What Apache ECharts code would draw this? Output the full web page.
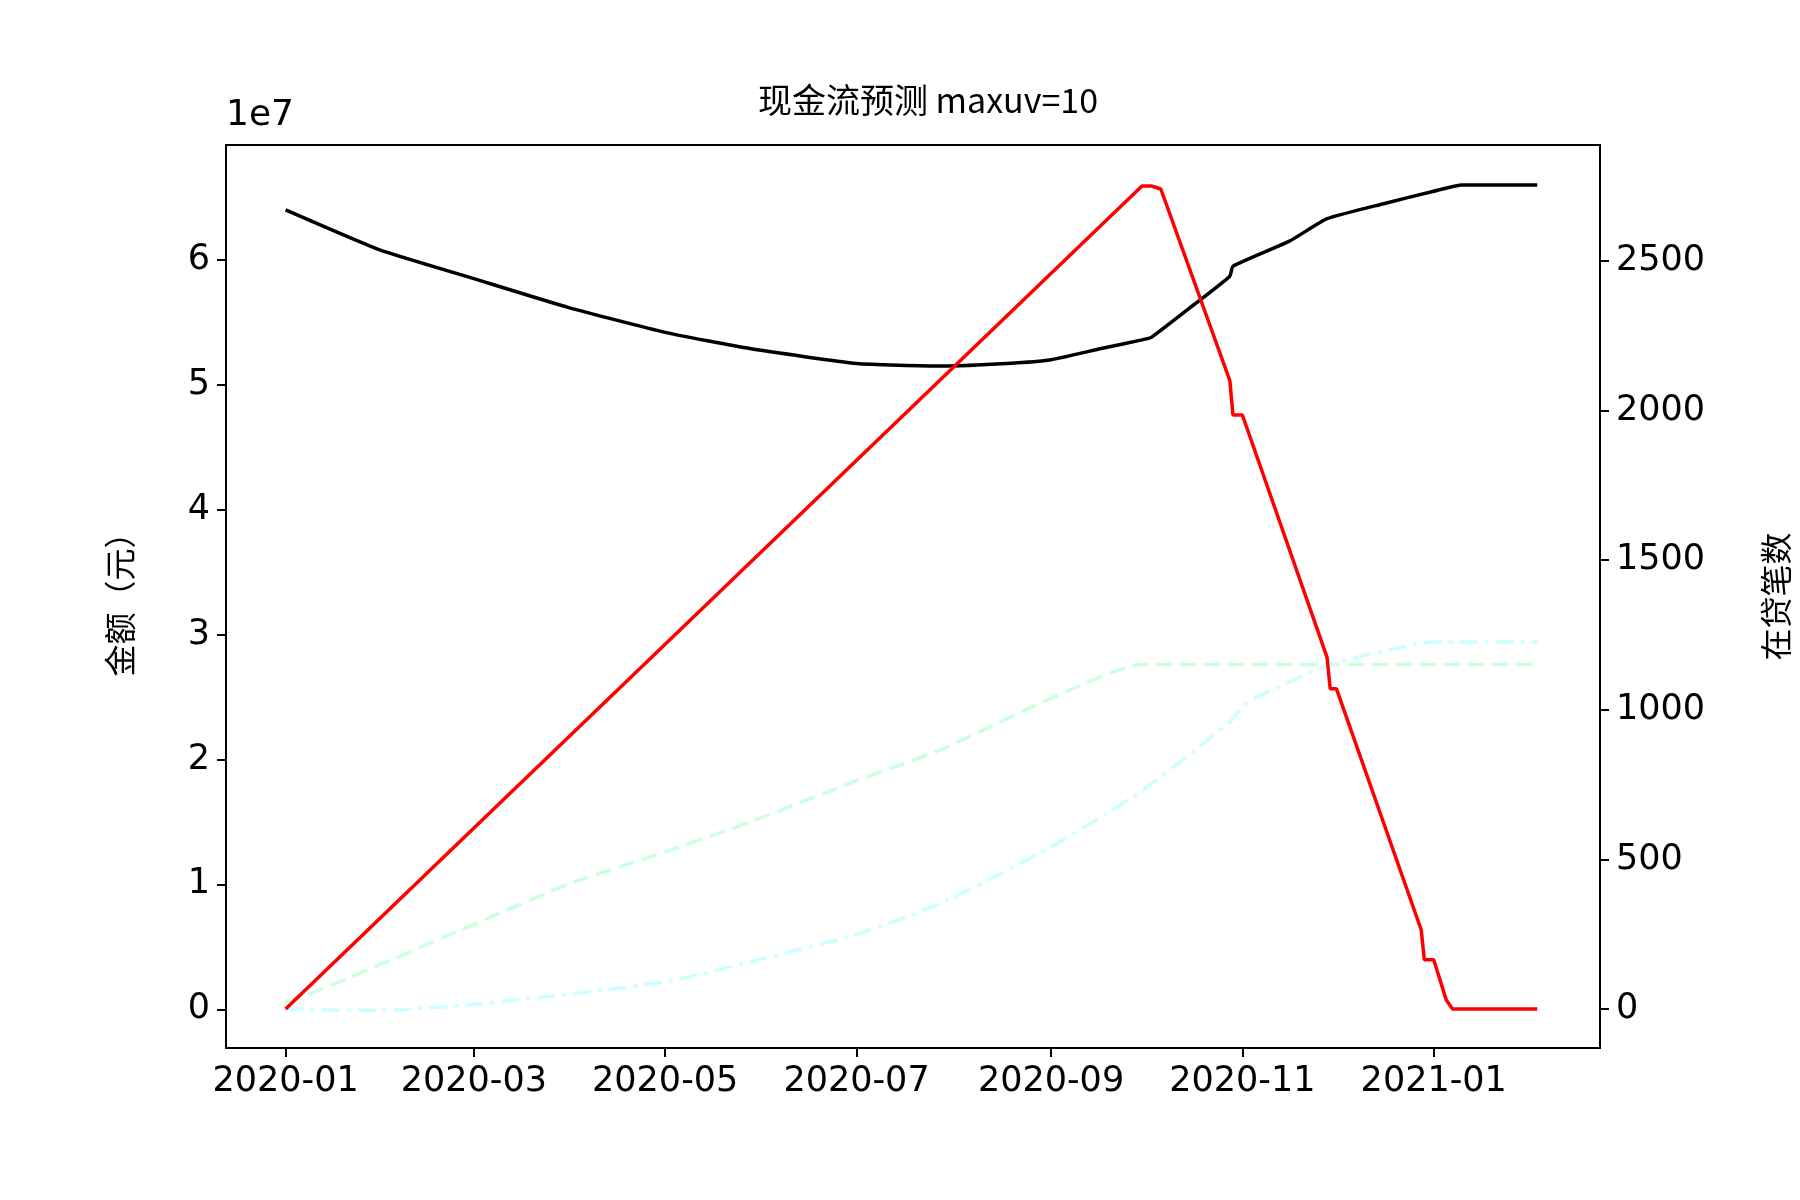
<!DOCTYPE html>
<html>
<head>
<meta charset="utf-8">
<script src="https://cdn.jsdelivr.net/npm/echarts@6/dist/echarts.min.js"></script>
<style>html,body{margin:0;background:#fff}#main{width:1800px;height:1200px}</style>
</head>
<body>
<div id="main"></div>
<script>
// x values are days since 2020-01-01
const tickDays = [0, 60, 121, 182, 244, 305, 366];
const tickLabels = ['2020-01', '2020-03', '2020-05', '2020-07', '2020-09', '2020-11', '2021-01'];

// 现金流余额 (1e7 元)
const balanceDays = [0, 30, 60, 90, 121, 148, 182, 209, 230, 244, 260, 273, 276, 290, 301, 302, 320, 332, 350, 366, 375, 399];
const balanceVals = [6.4, 6.08, 5.85, 5.62, 5.42, 5.29, 5.17, 5.15, 5.17, 5.2, 5.29, 5.36, 5.38, 5.65, 5.87, 5.95, 6.15, 6.33, 6.45, 6.55, 6.6, 6.6];

// 在贷笔数
const countDays = [0, 273, 276, 279, 301, 302, 305, 332, 333, 335, 362, 363, 366, 370, 372, 399];
const countVals = [0, 2750, 2750, 2740, 2100, 1985, 1985, 1175, 1070, 1070, 265, 165, 165, 30, 0, 0];

// 累计 (1e7 元)
const greenDays = [0, 20, 60, 90, 121, 148, 182, 209, 244, 273, 300, 340, 399];
const greenVals = [0.05, 0.25, 0.68, 1.0, 1.26, 1.5, 1.83, 2.08, 2.49, 2.76, 2.76, 2.76, 2.76];
const cyanDays = [0, 29, 60, 90, 121, 148, 182, 209, 244, 273, 301, 306, 332, 350, 366, 399];
const cyanVals = [0, -0.01, 0.04, 0.12, 0.22, 0.38, 0.6, 0.85, 1.3, 1.75, 2.3, 2.45, 2.75, 2.87, 2.94, 2.94];

const zip = (a, b) => a.map((d, i) => [d, b[i]]);
const font = 'DejaVu Sans, Noto Sans CJK SC';
const leftTicks = [0, 1, 2, 3, 4, 5, 6];
const rightTicks = [0, 500, 1000, 1500, 2000, 2500];

const chart = echarts.init(document.getElementById('main'));
chart.setOption({
  animation: false,
  title: {
    text: '现金流预测 maxuv=10', left: 923, top: 78, textAlign: 'center',
    textStyle: { fontFamily: 'Noto Sans CJK SC', fontSize: 34, fontWeight: 'normal', color: '#000' }
  },
  graphic: [{ type: 'text', left: 226, top: 98, style: { text: '1e7', font: '36px DejaVu Sans', fill: '#000' } }],
  grid: { left: 226, right: 180, top: 145, bottom: 152, show: true, borderColor: '#000', borderWidth: 2 },
  xAxis: {
    type: 'value', min: -19, max: 419,
    axisLine: { onZero: false, lineStyle: { color: '#000', width: 2 } },
    axisTick: { customValues: tickDays, length: 9, lineStyle: { color: '#000', width: 2 } },
    axisLabel: {
      customValues: tickDays, color: '#000', fontSize: 35, fontFamily: font, margin: 16,
      formatter: v => tickLabels[tickDays.indexOf(v)]
    },
    splitLine: { show: false }
  },
  yAxis: [{
    type: 'value', min: -0.31, max: 6.92,
    name: '金额（元）', nameLocation: 'middle', nameGap: 90, nameRotate: 90,
    nameTextStyle: { fontFamily: 'Noto Sans CJK SC', fontSize: 32, color: '#000' },
    axisLine: { show: true, onZero: false, lineStyle: { color: '#000', width: 2 } },
    axisTick: { customValues: leftTicks, length: 9, lineStyle: { color: '#000', width: 2 } },
    axisLabel: { customValues: leftTicks, color: '#000', fontSize: 35, fontFamily: font, margin: 16 },
    splitLine: { show: false }
  }, {
    type: 'value', min: -130, max: 2887, position: 'right',
    name: '在贷笔数', nameLocation: 'middle', nameGap: 160, nameRotate: 90,
    nameTextStyle: { fontFamily: 'Noto Sans CJK SC', fontSize: 32, color: '#000' },
    axisLine: { show: true, onZero: false, lineStyle: { color: '#000', width: 2 } },
    axisTick: { customValues: rightTicks, length: 9, lineStyle: { color: '#000', width: 2 } },
    axisLabel: { customValues: rightTicks, color: '#000', fontSize: 35, fontFamily: font, margin: 16, formatter: v => String(v) },
    splitLine: { show: false }
  }],
  series: [
    { type: 'line', data: zip(greenDays, greenVals), showSymbol: false, smooth: 0.2,
      lineStyle: { color: '#ccffdd', width: 3.5, type: [16, 8] } },
    { type: 'line', data: zip(cyanDays, cyanVals), showSymbol: false, smooth: 0.2,
      lineStyle: { color: '#ccffff', width: 3.5, type: [18, 7, 4, 7] } },
    { type: 'line', data: zip(balanceDays, balanceVals), showSymbol: false, smooth: 0.15,
      lineStyle: { color: '#000', width: 3.5 } },
    { type: 'line', yAxisIndex: 1, data: zip(countDays, countVals), showSymbol: false,
      lineStyle: { color: '#ff0000', width: 3.5 } }
  ]
});
</script>
</body>
</html>
